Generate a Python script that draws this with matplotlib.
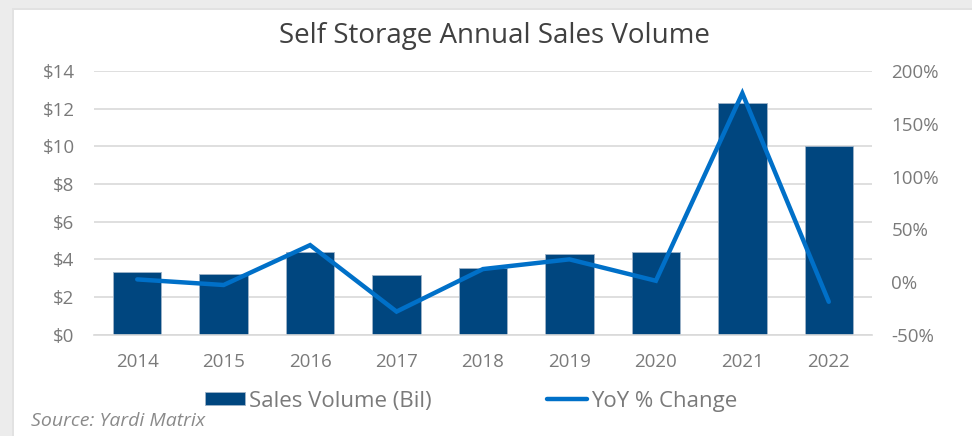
import matplotlib.pyplot as plt
from matplotlib.patches import Rectangle
from matplotlib.ticker import FuncFormatter
import numpy as np

years = ['2014', '2015', '2016', '2017', '2018', '2019', '2020', '2021', '2022']
volume = [3.32, 3.25, 4.38, 3.16, 3.55, 4.31, 4.40, 12.28, 10.0]
yoy = [2.5, -2.8, 35.0, -28.0, 12.3, 21.5, 1.2, 178.9, -18.7]

bar_col = '#00467f'
line_col = '#0070c8'
txt_col = '#7a7a7a'
grid_col = '#d9d9d9'

plt.rcParams['font.family'] = ['Open Sans', 'DejaVu Sans']

fig = plt.figure(figsize=(9.72, 4.36), dpi=100)
fig.patch.set_facecolor('#ececec')
# white card with a soft edge
fig.patches.append(Rectangle((12/972, 0), 1, 1 - 8/436, transform=fig.transFigure,
                             facecolor='#e2e2e2', edgecolor='none', zorder=-2))
fig.patches.append(Rectangle((14/972, 0), 1, 1 - 10/436, transform=fig.transFigure,
                             facecolor='white', edgecolor='none', zorder=-1))

ax = fig.add_axes([94/972, 1 - 334.8/436, (872 - 94)/972, (334.8 - 71)/436])
ax.set_facecolor('none')
x = np.arange(len(years))
ax.bar(x, volume, width=0.56, color=bar_col, edgecolor='#9fb3c8', linewidth=0.6,
       label='Sales Volume (Bil)', zorder=2)
ax.set_ylim(0, 14)
ax.set_yticks(range(0, 15, 2))
ax.yaxis.set_major_formatter(FuncFormatter(lambda v, p: f'${v:.0f}'))
ax.set_xlim(-0.5, len(years) - 0.5)
ax.set_xticks(x)
ax.set_xticklabels(years)
ax.grid(axis='y', color=grid_col, linewidth=1.2, zorder=0)
ax.set_axisbelow(True)
for s in ['top', 'right', 'left']:
    ax.spines[s].set_visible(False)
ax.spines['bottom'].set_color(grid_col)
ax.spines['bottom'].set_linewidth(1.2)
ax.tick_params(axis='both', length=0, colors=txt_col, labelsize=13.5)
ax.tick_params(axis='y', pad=14)
ax.tick_params(axis='x', pad=13)

ax2 = ax.twinx()
ax2.plot(x, yoy, color=line_col, linewidth=3.2, solid_capstyle='round',
         solid_joinstyle='miter', label='YoY % Change', zorder=3)
ax2.set_ylim(-50, 200)
ax2.set_yticks(range(-50, 201, 50))
ax2.yaxis.set_major_formatter(FuncFormatter(lambda v, p: f'{v:.0f}%'))
for s in ax2.spines.values():
    s.set_visible(False)
ax2.tick_params(axis='y', length=0, colors=txt_col, labelsize=13.5, pad=14)

fig.text(494/972, 1 - 36/436, 'Self Storage Annual Sales Volume', ha='center', va='center',
         fontsize=20, color='#404040')

h1, l1 = ax.get_legend_handles_labels()
h2, l2 = ax2.get_legend_handles_labels()
fig.legend(h1 + h2, l1 + l2, loc='center', bbox_to_anchor=(471/972, 1 - 401/436),
           ncol=2, frameon=False, fontsize=16, labelcolor=txt_col,
           handlelength=1.8, handleheight=0.55, handletextpad=0.18, columnspacing=5.2)

fig.text(31/972, 1 - 421/436, 'Source: Yardi Matrix', ha='left', va='center',
         fontsize=14, style='italic', color='#8a8a8a')

fig.savefig('out.png', dpi=100)
